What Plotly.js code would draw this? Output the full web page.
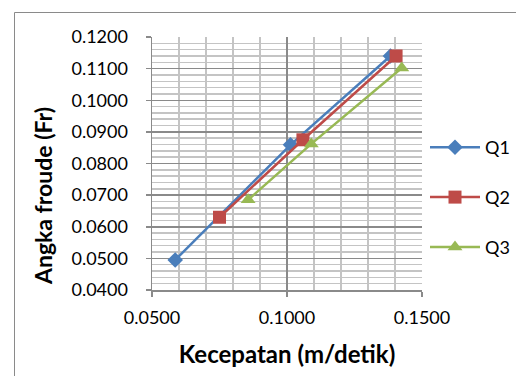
<!DOCTYPE html>
<html>
<head>
<meta charset="utf-8">
<script src="https://cdn.plot.ly/plotly-3.0.1.min.js"></script>
<style>
html,body{margin:0;padding:0;background:#fff;}
#chart{width:516px;height:376px;}
</style>
</head>
<body>
<div id="chart"></div>
<script>
// Data
const seriesNames = ["Q1", "Q2", "Q3"];
const q1Speed = [0.0586, 0.1013, 0.1383];
const q1Froude = [0.0495, 0.0859, 0.1140];
const q2Speed = [0.0750, 0.1059, 0.1404];
const q2Froude = [0.0630, 0.0875, 0.1140];
const q3Speed = [0.0856, 0.1090, 0.1425];
const q3Froude = [0.0685, 0.0862, 0.1102];
const xTitle = "Kecepatan (m/detik)";
const yTitle = "Angka froude (Fr)";

const FONT = "Lato, 'Liberation Sans', sans-serif";
const colors = ["#4A7EBB", "#BE4B48", "#98B954"];
const symbols = ["diamond", "square", "triangle-up"];
const sizes = [12, 13, 13];
const xs = [q1Speed, q2Speed, q3Speed];
const ys = [q1Froude, q2Froude, q3Froude];

const traces = seriesNames.map((n, i) => ({
  x: xs[i], y: ys[i], name: n, type: "scatter", mode: "lines+markers",
  legendgroup: n,
  line: {color: colors[i], width: 2.5},
  marker: {symbol: symbols[i], size: sizes[i], color: colors[i]}
}));

const L = 152, R = 422, T = 37, B = 290;
const W = 516, H = 376;
const px2x = p => (p - L) / (R - L);
const px2y = p => (B - p) / (B - T);

const layout = {
  width: W, height: H,
  margin: {l: L, r: W - R, t: T, b: H - B, pad: 0, autoexpand: false},
  paper_bgcolor: "#fff", plot_bgcolor: "#fff",
  font: {family: FONT, size: 18, color: "#000"},
  showlegend: true,
  legend: {
    xref: "container", yref: "container",
    x: 425 / W, y: 1 - 129 / H, xanchor: "left", yanchor: "top",
    traceorder: "grouped", tracegroupgap: 23.5, itemwidth: 50,
    font: {family: FONT, size: 18, color: "#000"},
    bgcolor: "rgba(0,0,0,0)"
  },
  xaxis: {
    range: [0.05, 0.15], dtick: 0.05, tick0: 0.05, tickformat: ".4f",
    showgrid: true, gridcolor: "#8a8a8a", gridwidth: 1.5,
    minor: {dtick: 0.01, showgrid: true, gridcolor: "#c4c4c4", gridwidth: 1.5, ticks: ""},
    ticks: "outside", ticklen: 5, tickcolor: "#8a8a8a", tickwidth: 1.5,
    showline: true, linecolor: "#8a8a8a", linewidth: 1.5,
    zeroline: false, ticklabelstandoff: 6,
    tickfont: {family: FONT, size: 18, color: "#000"},
    title: {text: xTitle, standoff: 19, font: {family: FONT, size: 24, color: "#000", weight: "bold"}}
  },
  yaxis: {
    range: [0.04, 0.12], dtick: 0.01, tick0: 0.04, tickformat: ".4f",
    showgrid: true, gridcolor: "#8a8a8a", gridwidth: 1.5,
    minor: {dtick: 0.002, showgrid: true, gridcolor: "#c4c4c4", gridwidth: 1.5, ticks: ""},
    ticks: "outside", ticklen: 5, tickcolor: "#8a8a8a", tickwidth: 1.5,
    showline: true, linecolor: "#8a8a8a", linewidth: 1.5,
    zeroline: false, ticklabelstandoff: 14,
    tickfont: {family: FONT, size: 18, color: "#000"}
  },
  annotations: [{
    text: yTitle, xref: "paper", yref: "paper",
    x: px2x(43), y: px2y(196), xanchor: "center", yanchor: "middle",
    textangle: -90, showarrow: false,
    font: {family: FONT, size: 23, color: "#000", weight: "bold"}
  }],
  shapes: [{
    type: "rect", xref: "paper", yref: "paper", layer: "below",
    x0: px2x(14.5), x1: px2x(540), y0: px2y(400), y1: px2y(12.5),
    line: {color: "#8a8a8a", width: 1}, fillcolor: "rgba(0,0,0,0)"
  }]
};

Plotly.newPlot("chart", traces, layout, {displayModeBar: false, staticPlot: true});
</script>
</body>
</html>
